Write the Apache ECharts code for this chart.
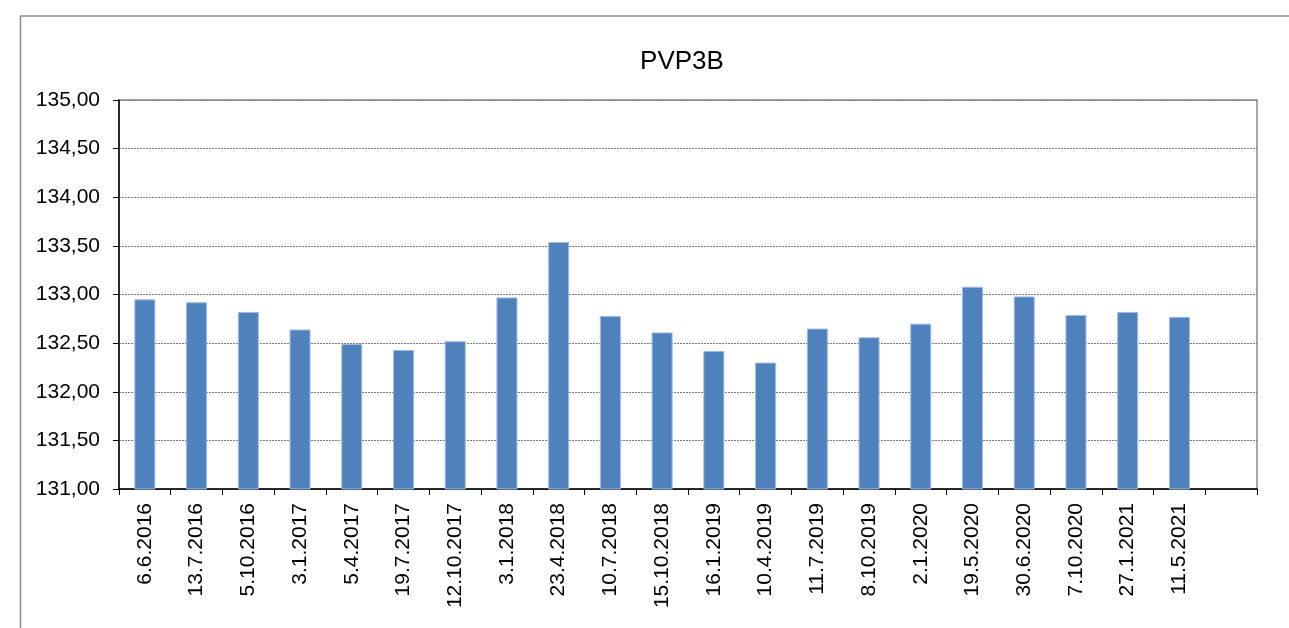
<!DOCTYPE html>
<html>
<head>
<meta charset="utf-8">
<script src="https://cdn.jsdelivr.net/npm/echarts@6/dist/echarts.min.js"></script>
<style>
html,body{margin:0;padding:0;background:#fff;}
#chart{width:1289px;height:628px;}
</style>
</head>
<body>
<div id="chart"></div>
<script>
const title = 'PVP3B';
const categories = ['6.6.2016','13.7.2016','5.10.2016','3.1.2017','5.4.2017','19.7.2017','12.10.2017','3.1.2018','23.4.2018','10.7.2018','15.10.2018','16.1.2019','10.4.2019','11.7.2019','8.10.2019','2.1.2020','19.5.2020','30.6.2020','7.10.2020','27.1.2021','11.5.2021',''];
const values = [132.95,132.92,132.82,132.64,132.49,132.43,132.52,132.97,133.54,132.78,132.61,132.42,132.30,132.65,132.56,132.70,133.08,132.98,132.79,132.82,132.77,null];
const yMin = 131, yMax = 135, yStep = 0.5;

const chart = echarts.init(document.getElementById('chart'), null, {renderer:'canvas'});
chart.setOption({
  animation:false,
  backgroundColor:'#fff',
  textStyle:{fontFamily:'Liberation Sans, Arial, sans-serif'},
  graphic:[{
    type:'rect', silent:true, z:-10,
    shape:{x:20.5,y:16,width:1400,height:800},
    style:{fill:'none',stroke:'#8c8c8c',lineWidth:1.5}
  }],
  title:{
    text:title, left:677, top:44, textAlign:'center',
    textStyle:{fontSize:26,fontWeight:'normal',color:'#000',fontFamily:'Liberation Sans, Arial, sans-serif'}
  },
  grid:{left:119,right:32,top:100,bottom:139,show:true,borderColor:'#8c8c8c',borderWidth:1.5,backgroundColor:'transparent'},
  xAxis:{
    type:'category', data:categories,
    axisLine:{lineStyle:{color:'#000',width:1.5}},
    axisTick:{show:true,length:6,interval:0,lineStyle:{color:'#000'}},
    axisLabel:{interval:0,rotate:90,margin:14,fontSize:21,color:'#000',fontFamily:'Liberation Sans, Arial, sans-serif'}
  },
  yAxis:{
    type:'value', min:yMin, max:yMax, interval:yStep,
    axisLine:{show:true,lineStyle:{color:'#000',width:1.5}},
    axisTick:{show:true,length:6,lineStyle:{color:'#000'}},
    axisLabel:{margin:19,fontSize:21,color:'#000',fontFamily:'Liberation Sans, Arial, sans-serif',
      formatter:v=>v.toFixed(2).replace('.',',')},
    splitLine:{show:true,lineStyle:{color:'#7a7a7a',type:[2,1],width:1}}
  },
  series:[{
    type:'bar', data:values, barWidth:21,
    itemStyle:{color:'#4F81BD',borderColor:'#9fbbe0',borderWidth:1}
  }]
});
</script>
</body>
</html>
